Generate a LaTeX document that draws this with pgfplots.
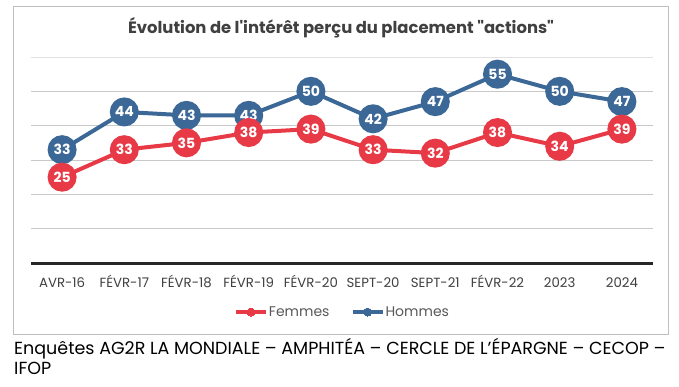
\documentclass[border=0pt]{standalone}
\usepackage{fontspec}
\setmainfont{Poppins}
\newfontfamily\popraw{Poppins}
\usepackage{pgfplots}
\pgfplotsset{compat=1.18}
\definecolor{fem}{RGB}{232,58,70}
\definecolor{hom}{RGB}{59,104,150}
\definecolor{gridc}{RGB}{200,200,200}
\definecolor{txt}{RGB}{64,64,64}
\definecolor{legt}{RGB}{89,89,89}
\begin{document}
\begin{tikzpicture}[x=1pt,y=1pt]
\fill[white] (0,0) rectangle (679,386);
\draw[black!25, line width=1pt] (13,52) rectangle (668,379);
\node[font=\fontsize{16.4}{19}\selectfont\bfseries, text=txt] at (341,358) {\popraw Évolution de l'intérêt perçu du placement "actions"};
\begin{axis}[
  at={(31pt,123pt)}, anchor=south west, scale only axis,
  width=622pt, height=206pt,
  xmin=-0.5, xmax=9.5, ymin=0, ymax=60,
  axis line style={draw=none},
  ytick={10,20,30,40,50}, yticklabels={},
  extra y ticks={60}, extra y tick labels={},
  extra y tick style={grid style={black!12, line width=1pt}},
  ymajorgrids, grid style={gridc, line width=1pt},
  major tick length=0pt,
  xtick={0,...,9},
  xticklabels={AVR-16, FÉVR-17, FÉVR-18, FÉVR-19, FÉVR-20, SEPT-20, SEPT-21, FÉVR-22, 2023, 2024},
  xticklabel style={font=\fontsize{13.3}{15}\selectfont, text=txt, anchor=base, yshift=-24.6pt},
  clip=false,
  /pgf/number format/assume math mode=true,
  legend style={at={(0.5,-0.238)}, anchor=center, draw=none, fill=none,
    font=\fontsize{14}{16}\selectfont, text=legt,
    /tikz/every even column/.append style={column sep=20pt},
    inner sep=0pt, nodes={inner sep=1pt}},
  legend columns=2, reverse legend,
  legend image code/.code={\draw[mark repeat=2,mark phase=2,#1] plot coordinates {(0pt,0pt) (15pt,0pt) (30pt,0pt)};},
  every node near coord/.append style={anchor=center, text=white, font=\fontsize{14}{14}\selectfont\bfseries},
]
\draw[line width=3pt, black!85] (axis cs:-0.5,0) -- (axis cs:9.5,0);
\addplot[hom, line width=4pt, mark=*, mark size=12.5pt, mark options={fill=hom, draw=none}, nodes near coords, forget plot]
 coordinates {(0,33) (1,44) (2,43) (3,43) (4,50) (5,42) (6,47) (7,55) (8,50) (9,47)};
\addplot[fem, line width=4pt, mark=*, mark size=12.5pt, mark options={fill=fem, draw=none}, nodes near coords, forget plot]
 coordinates {(0,25) (1,33) (2,35) (3,38) (4,39) (5,33) (6,32) (7,38) (8,34) (9,39)};
\addlegendimage{hom, line width=4pt, mark=*, mark size=4pt, mark options={fill=hom, draw=none, line width=0pt}}
\addlegendentry{Hommes}
\addlegendimage{fem, line width=4pt, mark=*, mark size=4pt, mark options={fill=fem, draw=none, line width=0pt}}
\addlegendentry{Femmes}
\end{axis}
\node[anchor=base west, font=\fontsize{17.5}{20}\selectfont, inner sep=0pt] at (14,32) {Enquêtes AG2R LA MONDIALE – AMPHITÉA – CERCLE DE L’ÉPARGNE – CECOP –};
\node[anchor=base west, font=\fontsize{17.5}{20}\selectfont, inner sep=0pt] at (14,12) {IFOP};
\end{tikzpicture}
\end{document}
